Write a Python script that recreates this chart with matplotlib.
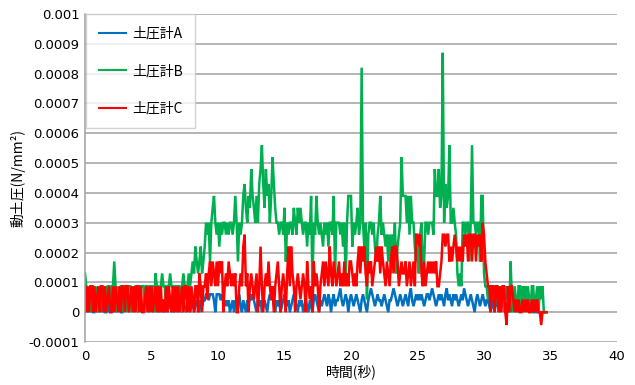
import numpy as np
import matplotlib
matplotlib.use("Agg")
import matplotlib.pyplot as plt

# ---------------- data (N/mm^2, sampled every 0.1 s) ----------------
sample_step_s = 0.1

pressure_a = [
    0, 2e-5, 0, 4e-5, 0, 2e-5, 0, 0, 4e-5, 0,
    2e-5, 0, 4e-5, 0, 2e-5, 0, 0, 4e-5, 0, 2e-5,
    0, 4e-5, 0, 2e-5, 0, 4e-5, 2e-5, 0, 0, 4e-5,
    2e-5, 4e-5, 2e-5, 0, 2e-5, 4e-5, 2e-5, 0, 4e-5, 2e-5,
    0, 2e-5, 4e-5, 0, 2e-5, 0, 4e-5, 2e-5, 0, 2e-5,
    4e-5, 0, 2e-5, 4e-5, 0, 2e-5, 0, 4e-5, 2e-5, 0,
    2e-5, 4e-5, 0, 2e-5, 4e-5, 0, 2e-5, 0, 4e-5, 2e-5,
    0, 4e-5, 2e-5, 0, 4e-5, 2e-5, 0, 2e-5, 4e-5, 0,
    2e-5, 4e-5, 0, 2e-5, 4e-5, 2e-5, 0, 4e-5, 2e-5, 4e-5,
    4e-5, 6e-5, 6e-5, 4e-5, 6e-5, 6e-5, 6e-5, 4e-5, 0, 6e-5,
    6e-5, 6e-5, 4e-5, 6e-5, 4e-5, 2e-5, 4e-5, 2e-5, 4e-5, 0,
    2e-5, 4e-5, 0, 4e-5, 2e-5, 4e-5, 6e-5, 2e-5, 0, 4e-5,
    2e-5, 0, 4e-5, 2e-5, 6e-5, 4e-5, 6e-5, 4e-5, 2e-5, 0,
    4e-5, 2e-5, 4e-5, 0, 2e-5, 4e-5, 2e-5, 0, 4e-5, 6e-5,
    4e-5, 6e-5, 2e-5, 0, 4e-5, 2e-5, 4e-5, 0, 2e-5, 4e-5,
    6e-5, 4e-5, 2e-5, 4e-5, 0, 2e-5, 4e-5, 6e-5, 4e-5, 2e-5,
    0, 4e-5, 2e-5, 4e-5, 0, 2e-5, 4e-5, 2e-5, 0, 4e-5,
    2e-5, 0, 4e-5, 6e-5, 4e-5, 2e-5, 0, 4e-5, 2e-5, 4e-5,
    6e-5, 4e-5, 2e-5, 6e-5, 4e-5, 0, 4e-5, 6e-5, 2e-5, 4e-5,
    4e-5, 6e-5, 8e-5, 4e-5, 2e-5, 4e-5, 6e-5, 4e-5, 0, 4e-5,
    6e-5, 4e-5, 2e-5, 4e-5, 6e-5, 4e-5, 2e-5, 0, 4e-5, 6e-5,
    4e-5, 2e-5, 0, 4e-5, 6e-5, 8e-5, 6e-5, 4e-5, 2e-5, 4e-5,
    6e-5, 4e-5, 4e-5, 2e-5, 4e-5, 6e-5, 4e-5, 2e-5, 0, 4e-5,
    4e-5, 6e-5, 8e-5, 6e-5, 4e-5, 2e-5, 4e-5, 6e-5, 4e-5, 2e-5,
    4e-5, 6e-5, 4e-5, 2e-5, 6e-5, 8e-5, 4e-5, 2e-5, 4e-5, 6e-5,
    4e-5, 6e-5, 4e-5, 6e-5, 4e-5, 2e-5, 4e-5, 6e-5, 6e-5, 4e-5,
    6e-5, 8e-5, 6e-5, 4e-5, 2e-5, 4e-5, 6e-5, 4e-5, 6e-5, 4e-5,
    2e-5, 6e-5, 8e-5, 4e-5, 6e-5, 4e-5, 2e-5, 6e-5, 4e-5, 6e-5,
    4e-5, 2e-5, 4e-5, 6e-5, 4e-5, 8e-5, 6e-5, 4e-5, 2e-5, 4e-5,
    6e-5, 4e-5, 2e-5, 0, 4e-5, 6e-5, 4e-5, 2e-5, 4e-5, 6e-5,
    4e-5, 2e-5, 4e-5, 4e-5, 2e-5, 0, 4e-5, 2e-5, 0, 4e-5,
    2e-5, 4e-5, 0, 2e-5, 4e-5, 2e-5, 0, 2e-5, 0, 2e-5,
    0, 2e-5, 4e-5, 2e-5, 0, 2e-5, 0, 4e-5, 2e-5, 0,
    2e-5, 4e-5, 2e-5, 4e-5, 2e-5, 0, 2e-5, 0, 0, 0,
    0, 0, 0, 0, 0, 0, 0, 0,
]

pressure_b = [
    1.3e-4, 8.7e-5, 0, 8.7e-5, 0, 8.7e-5, 8.7e-5, 0, 8.7e-5, 0,
    8.7e-5, 0, 8.7e-5, 8.7e-5, 0, 8.7e-5, 0, 8.7e-5, 8.7e-5, 0,
    8.7e-5, 8.7e-5, 1.7e-4, 8.7e-5, 0, 8.7e-5, 0, 8.7e-5, 8.7e-5, 0,
    8.7e-5, 0, 8.7e-5, 8.7e-5, 8.7e-5, 0, 8.7e-5, 0, 8.7e-5, 8.7e-5,
    0, 8.7e-5, 8.7e-5, 8.7e-5, 8.7e-5, 0, 8.7e-5, 8.7e-5, 0, 8.7e-5,
    8.7e-5, 8.7e-5, 0, 1.3e-4, 8.7e-5, 8.7e-5, 0, 8.7e-5, 1.3e-4, 8.7e-5,
    8.7e-5, 0, 8.7e-5, 8.7e-5, 1.3e-4, 8.7e-5, 8.7e-5, 0, 8.7e-5, 8.7e-5,
    8.7e-5, 8.7e-5, 0, 8.7e-5, 1.3e-4, 8.7e-5, 8.7e-5, 8.7e-5, 1.3e-4, 8.7e-5,
    1.3e-4, 1.7e-4, 1.3e-4, 2.2e-4, 1.7e-4, 1.3e-4, 1.7e-4, 2.2e-4, 1.3e-4, 1.7e-4,
    2.2e-4, 3.0e-4, 2.6e-4, 3.0e-4, 1.7e-4, 3.0e-4, 3.5e-4, 3.9e-4, 3.0e-4, 2.6e-4,
    3.0e-4, 2.2e-4, 3.0e-4, 2.6e-4, 3.0e-4, 3.0e-4, 2.6e-4, 3.0e-4, 2.6e-4, 3.0e-4,
    3.0e-4, 2.6e-4, 3.0e-4, 3.9e-4, 3.0e-4, 1.7e-4, 3.0e-4, 2.6e-4, 3.0e-4, 3.9e-4,
    4.3e-4, 3.5e-4, 3.0e-4, 3.9e-4, 3.5e-4, 4.8e-4, 3.9e-4, 3.5e-4, 3.0e-4, 3.9e-4,
    3.0e-4, 4.3e-4, 4.8e-4, 5.6e-4, 4.3e-4, 3.5e-4, 4.8e-4, 3.9e-4, 4.3e-4, 3.0e-4,
    3.9e-4, 5.2e-4, 4.3e-4, 3.5e-4, 3.0e-4, 3.0e-4, 2.6e-4, 3.0e-4, 3.0e-4, 2.6e-4,
    3.5e-4, 1.7e-4, 3.0e-4, 2.6e-4, 3.0e-4, 3.0e-4, 2.6e-4, 3.5e-4, 3.0e-4, 2.6e-4,
    3.5e-4, 3.0e-4, 3.5e-4, 3.0e-4, 2.6e-4, 3.0e-4, 3.0e-4, 2.2e-4, 3.0e-4, 2.6e-4,
    3.9e-4, 8.7e-5, 3.0e-4, 2.6e-4, 3.9e-4, 3.0e-4, 2.6e-4, 3.0e-4, 2.6e-4, 2.2e-4,
    3.0e-4, 2.6e-4, 3.0e-4, 2.2e-4, 3.0e-4, 3.0e-4, 2.6e-4, 3.9e-4, 1.3e-4, 3.0e-4,
    3.0e-4, 3.0e-4, 2.6e-4, 3.0e-4, 2.2e-4, 3.0e-4, 1.0e-4, 3.0e-4, 3.9e-4, 3.9e-4,
    3.9e-4, 2.2e-4, 3.0e-4, 2.6e-4, 3.0e-4, 3.5e-4, 2.6e-4, 3.0e-4, 8.2e-4, 3.0e-4,
    2.2e-4, 3.0e-4, 4.3e-5, 2.6e-4, 3.0e-4, 3.0e-4, 2.6e-4, 3.0e-4, 2.2e-4, 1.7e-4,
    2.6e-4, 3.0e-4, 3.9e-4, 2.6e-4, 3.0e-4, 2.6e-4, 2.2e-4, 2.6e-4, 1.7e-4, 2.6e-4,
    1.3e-4, 2.6e-4, 2.2e-4, 3.0e-4, 1.3e-4, 2.2e-4, 2.6e-4, 3.0e-4, 5.2e-4, 3.9e-4,
    3.9e-4, 3.9e-4, 3.0e-4, 3.9e-4, 2.6e-4, 3.9e-4, 3.0e-4, 3.0e-4, 2.2e-4, 1.7e-4,
    2.2e-4, 1.3e-4, 2.6e-4, 3.0e-4, 1.3e-4, 1.7e-4, 3.0e-4, 3.0e-4, 2.6e-4, 3.0e-4,
    3.0e-4, 3.0e-4, 2.6e-4, 4.8e-4, 3.9e-4, 3.9e-4, 4.8e-4, 3.5e-4, 3.9e-4, 8.7e-4,
    3.0e-4, 4.3e-4, 3.5e-4, 3.9e-4, 5.6e-4, 3.0e-4, 3.0e-4, 3.5e-4, 3.0e-4, 2.6e-4,
    1.3e-4, 8.7e-5, 1.3e-4, 8.7e-5, 3.0e-4, 3.0e-4, 2.6e-4, 3.0e-4, 3.0e-4, 1.7e-4,
    3.0e-4, 5.6e-4, 3.0e-4, 3.0e-4, 2.6e-4, 3.0e-4, 3.0e-4, 1.7e-4, 3.9e-4, 3.9e-4,
    1.3e-4, 8.7e-5, 8.7e-5, 4.3e-5, 8.7e-5, 8.7e-5, 4.3e-5, 8.7e-5, 0, 8.7e-5,
    8.7e-5, 0, 8.7e-5, 4.3e-5, 8.7e-5, 0, 8.7e-5, 4.3e-5, 8.7e-5, 0,
    1.7e-4, 4.3e-5, 0, 8.7e-5, 4.3e-5, 0, 8.7e-5, 8.7e-5, 0, 8.7e-5,
    4.3e-5, 8.7e-5, 0, 8.7e-5, 4.3e-5, 0, 8.7e-5, 8.7e-5, 0, 4.3e-5,
    8.7e-5, 0, 8.7e-5, 4.3e-5, 8.7e-5, 0, 0, 0,
]

pressure_c = [
    8.7e-5, 0, 8.7e-5, 0, 8.7e-5, 8.7e-5, 0, 8.7e-5, 0, 4.3e-5,
    8.7e-5, 0, 8.7e-5, 8.7e-5, 0, 8.7e-5, 0, 4.3e-5, 8.7e-5, 0,
    0, 8.7e-5, 0, 8.7e-5, 4.3e-5, 0, 8.7e-5, 0, 8.7e-5, 8.7e-5,
    0, 8.7e-5, 8.7e-5, 0, 4.3e-5, 8.7e-5, 0, 8.7e-5, 0, 8.7e-5,
    8.7e-5, 0, 8.7e-5, 0, 0, 4.3e-5, 8.7e-5, 0, 8.7e-5, 0,
    8.7e-5, 0, 4.3e-5, 8.7e-5, 0, 8.7e-5, 0, 8.7e-5, 0, 4.3e-5,
    0, 8.7e-5, 0, 8.7e-5, 4.3e-5, 0, 8.7e-5, 0, 8.7e-5, 0,
    8.7e-5, 0, 4.3e-5, 8.7e-5, 0, 8.7e-5, 8.7e-5, 0, 8.7e-5, 0,
    8.7e-5, 4.3e-5, 0, 8.7e-5, 8.7e-5, 0, 1.3e-4, 8.7e-5, 0, 8.7e-5,
    8.7e-5, 1.3e-4, 4.3e-5, 1.3e-4, 1.7e-4, 8.7e-5, 1.7e-4, 1.3e-4, 8.7e-5, 1.7e-4,
    8.7e-5, 1.7e-4, 1.3e-4, 1.7e-4, 0, 8.7e-5, 1.3e-4, 8.7e-5, 1.7e-4, 1.3e-4,
    8.7e-5, 1.3e-4, 8.7e-5, 1.3e-4, 0, 0, 8.7e-5, 1.3e-4, 8.7e-5, 2.2e-4,
    2.6e-4, 8.7e-5, 1.3e-4, 0, 8.7e-5, 1.3e-4, 8.7e-5, 4.3e-5, 8.7e-5, 1.3e-4,
    0, 8.7e-5, 2.2e-4, 8.7e-5, 0, 8.7e-5, 1.3e-4, 8.7e-5, 1.7e-4, 8.7e-5,
    4.3e-5, 8.7e-5, 0, 8.7e-5, 1.3e-4, 1.7e-4, 8.7e-5, 0, 8.7e-5, 1.3e-4,
    8.7e-5, 0, 1.3e-4, 2.2e-4, 8.7e-5, 2.2e-4, 1.3e-4, 8.7e-5, 0, 8.7e-5,
    1.3e-4, 8.7e-5, 4.3e-5, 8.7e-5, 1.3e-4, 8.7e-5, 0, 1.7e-4, 8.7e-5, 4.3e-5,
    8.7e-5, 0, 1.7e-4, 8.7e-5, 1.3e-4, 8.7e-5, 0, 8.7e-5, 1.3e-4, 1.7e-4,
    8.7e-5, 1.7e-4, 1.3e-4, 8.7e-5, 2.2e-4, 1.3e-4, 8.7e-5, 1.7e-4, 1.3e-4, 8.7e-5,
    1.3e-4, 1.7e-4, 8.7e-5, 1.3e-4, 8.7e-5, 1.7e-4, 8.7e-5, 1.3e-4, 8.7e-5, 1.7e-4,
    1.7e-4, 1.3e-4, 8.7e-5, 1.3e-4, 8.7e-5, 1.7e-4, 2.2e-4, 1.3e-4, 2.2e-4, 1.7e-4,
    2.2e-4, 1.3e-4, 8.7e-5, 1.7e-4, 1.3e-4, 1.7e-4, 8.7e-5, 1.3e-4, 1.7e-4, 2.2e-4,
    1.7e-4, 2.2e-4, 1.3e-4, 2.2e-4, 1.7e-4, 1.3e-4, 8.7e-5, 1.7e-4, 1.3e-4, 8.7e-5,
    1.7e-4, 2.2e-4, 1.3e-4, 2.2e-4, 2.2e-4, 1.7e-4, 8.7e-5, 1.3e-4, 1.7e-4, 1.3e-4,
    1.3e-4, 1.7e-4, 8.7e-5, 1.3e-4, 1.7e-4, 8.7e-5, 1.3e-4, 1.7e-4, 8.7e-5, 2.6e-4,
    2.6e-4, 2.2e-4, 2.6e-4, 1.3e-4, 8.7e-5, 1.7e-4, 8.7e-5, 1.3e-4, 1.7e-4, 1.3e-4,
    1.7e-4, 1.3e-4, 1.7e-4, 1.3e-4, 1.7e-4, 8.7e-5, 8.7e-5, 1.3e-4, 1.7e-4, 2.6e-4,
    2.6e-4, 2.2e-4, 2.6e-4, 2.6e-4, 1.7e-4, 2.2e-4, 1.7e-4, 2.2e-4, 2.6e-4, 2.2e-4,
    1.7e-4, 2.2e-4, 1.7e-4, 2.2e-4, 1.7e-4, 2.6e-4, 2.2e-4, 2.6e-4, 1.7e-4, 2.6e-4,
    2.6e-4, 1.7e-4, 2.6e-4, 2.6e-4, 1.7e-4, 2.6e-4, 2.2e-4, 2.6e-4, 1.7e-4, 3.0e-4,
    2.6e-4, 1.7e-4, 1.3e-4, 8.7e-5, 8.7e-5, 0, 8.7e-5, 8.7e-5, 0, 8.7e-5,
    8.7e-5, 0, 8.7e-5, 0, 8.7e-5, 8.7e-5, 0, -4.3e-5, 8.7e-5, 0,
    8.7e-5, 8.7e-5, 4.3e-5, 0, 4.3e-5, 0, 4.3e-5, 0, 0, 4.3e-5,
    0, 4.3e-5, 0, 4.3e-5, 0, 0, 4.3e-5, 0, 4.3e-5, 0,
    4.3e-5, 0, 0, -4.3e-5, 0, 0, 0, 0,
]

series_labels = ["土圧計A", "土圧計B", "土圧計C"]
series_colors = ["#0070C0", "#00B050", "#FF0000"]

x_ticks = [0, 5, 10, 15, 20, 25, 30, 35, 40]
y_ticks = [-0.0001, 0, 0.0001, 0.0002, 0.0003, 0.0004, 0.0005,
           0.0006, 0.0007, 0.0008, 0.0009, 0.001]
y_tick_labels = ["-0.0001", "0", "0.0001", "0.0002", "0.0003", "0.0004",
                 "0.0005", "0.0006", "0.0007", "0.0008", "0.0009", "0.001"]
x_label = "時間(秒)"
y_label = "動土圧(N/mm²)"

# ---------------- plotting ----------------
plt.rcParams["font.family"] = ["Noto Sans CJK JP", "DejaVu Sans"]

fig = plt.figure(figsize=(6.35, 3.85), dpi=100)
ax = fig.add_axes([85 / 635, 1 - 342 / 385, 532 / 635, 328 / 385])

grid_color = "#a0a0a0"
for yv in y_ticks:
    ax.axhline(yv, color=grid_color, lw=1.1, zorder=0.5)

for vals, lab, col in zip([pressure_a, pressure_b, pressure_c],
                          series_labels, series_colors):
    t = np.arange(len(vals)) * sample_step_s
    ax.plot(t, vals, color=col, lw=1.8, label=lab, solid_joinstyle="miter")

ax.set_xlim(0, 40)
ax.set_ylim(-0.0001, 0.001)
ax.set_xticks(x_ticks)
ax.set_xticklabels([str(v) for v in x_ticks], fontfamily="DejaVu Sans", fontsize=9.5)
ax.set_yticks(y_ticks)
ax.set_yticklabels(y_tick_labels, fontfamily="DejaVu Sans", fontsize=9.5)
ax.tick_params(axis="both", length=0)
ax.tick_params(axis="y", pad=4)
ax.tick_params(axis="x", pad=6)

for side in ["top", "right", "bottom"]:
    ax.spines[side].set_visible(False)
ax.spines["left"].set_color(grid_color)
ax.spines["left"].set_linewidth(1.1)

ax.set_xlabel(x_label, fontsize=10, labelpad=1)
ax.set_ylabel(y_label, fontsize=10, labelpad=2)

leg = ax.legend(loc="upper left", bbox_to_anchor=(0.002, 1.0), frameon=True,
                fancybox=False, edgecolor="#c8c8c8", fontsize=10,
                handlelength=2.0, handletextpad=0.4, labelspacing=1.7,
                borderpad=0.9, borderaxespad=0.0)
leg.get_frame().set_linewidth(1.0)
for ln in leg.get_lines():
    ln.set_linewidth(1.5)

fig.savefig("out.png", dpi=100)
